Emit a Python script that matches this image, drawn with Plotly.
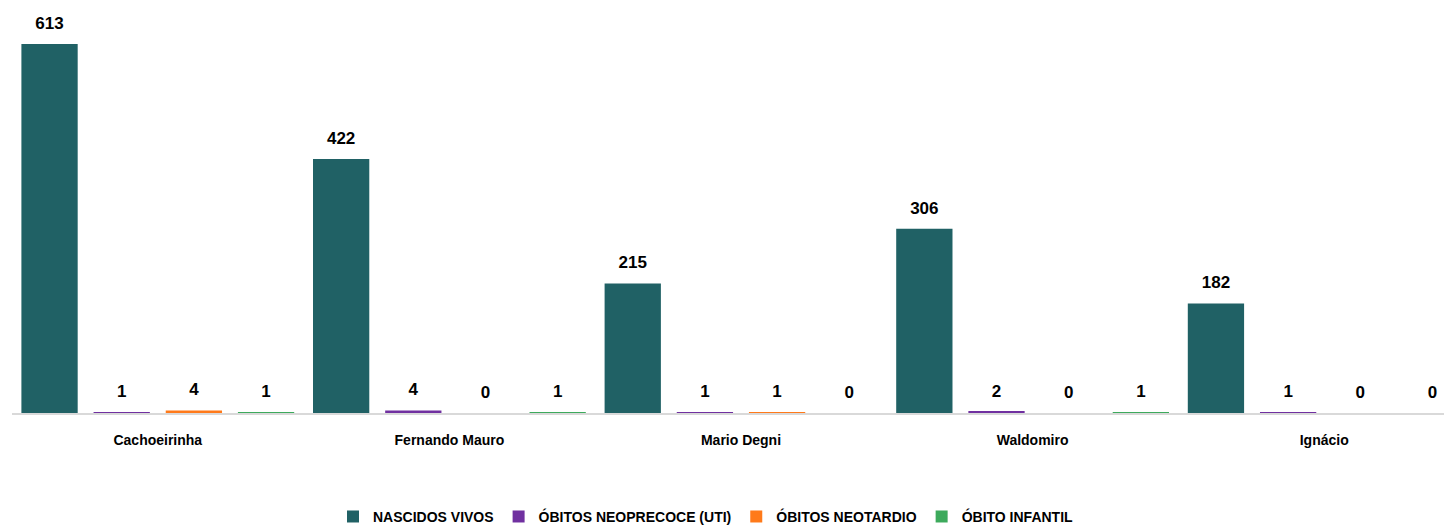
import plotly.graph_objects as go

categories = ["Cachoeirinha", "Fernando Mauro", "Mario Degni", "Waldomiro", "Ignácio"]
nascidos_vivos = [613, 422, 215, 306, 182]
obitos_neoprecoce = [1, 4, 1, 2, 1]
obitos_neotardio = [4, 0, 1, 0, 0]
obito_infantil = [1, 1, 0, 1, 0]

series = [
    ("NASCIDOS VIVOS", nascidos_vivos, "#206165"),
    ("ÓBITOS NEOPRECOCE (UTI)", obitos_neoprecoce, "#7030A0"),
    ("ÓBITOS NEOTARDIO", obitos_neotardio, "#FF7A1A"),
    ("ÓBITO INFANTIL", obito_infantil, "#3DAA5C"),
]

FONT = "Liberation Sans, Arial, sans-serif"

fig = go.Figure()
for i, (name, vals, color) in enumerate(series):
    fig.add_trace(go.Bar(
        x=categories, y=vals, name="<b>" + name + "</b>",
        offsetgroup=str(i),
        marker=dict(color=color, line=dict(width=0)),
        hoverinfo="x+y",
    ))
for i, (name, vals, color) in enumerate(series):
    fig.add_trace(go.Scatter(
        x=categories, y=vals, mode="markers+text",
        offsetgroup=str(i), showlegend=False,
        marker=dict(size=16, opacity=0, color=color),
        text=["<b>" + str(v) + "</b>" for v in vals],
        textposition="top center",
        textfont=dict(family=FONT, size=17, color="#000000"),
        cliponaxis=False, hoverinfo="skip",
    ))

fig.update_layout(
    width=1462, height=526,
    paper_bgcolor="white", plot_bgcolor="white",
    barmode="group", bargap=0.01, bargroupgap=0.22,
    scattermode="group", scattergap=0.01,
    margin=dict(l=4, r=0, t=10, b=121, autoexpand=False),
    font=dict(family=FONT, size=14, color="#000000"),
    xaxis=dict(showgrid=False, showline=True, linecolor="#d9d9d9", linewidth=2,
               ticks="", tickfont=dict(family=FONT, size=14, color="#000000"),
               ticklabelstandoff=13, automargin=False,
               tickprefix="<b>", ticksuffix="</b>"),
    yaxis=dict(visible=False, range=[0, 656.2], automargin=False),
    legend=dict(orientation="h", x=0.476, xanchor="center", y=-0.263, yanchor="middle",
                font=dict(family=FONT, size=14, color="#000000"),
                itemwidth=30, bgcolor="rgba(0,0,0,0)"),
    showlegend=True,
)

fig.write_html("out.html")
